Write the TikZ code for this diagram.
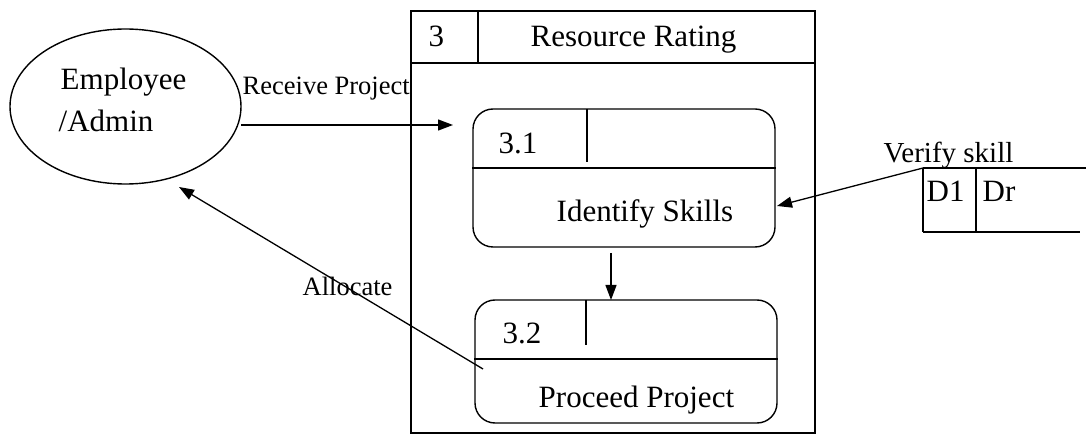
\documentclass[tikz,border=0pt]{standalone}
\usepackage{fontspec}
\setmainfont{Liberation Serif}
\usetikzlibrary{arrows.meta,shapes.geometric}
\begin{document}
\begin{tikzpicture}[x=1pt,y=-1pt,
  line width=1.4pt,
  big/.style={font=\fontsize{31}{31}\selectfont, anchor=base west, inner sep=0pt},
  small/.style={font=\fontsize{26.5}{26.5}\selectfont, anchor=base west, inner sep=0pt},
  flow/.style={-{Triangle[length=15pt,width=11pt]}, line width=1.3pt},
  process/.style={draw, rounded corners=20pt, minimum width=302pt, inner sep=0pt},
  frame/.style={draw, line width=1.2pt}]
\useasboundingbox (0,0) rectangle (1086,435);

% external entity
\node[draw, ellipse, minimum width=231pt, minimum height=155pt, inner sep=0pt] (emp) at (125.5,106.5) {};
\node[big] (empA) at (60,90) {Employee};
\node[big] (empB) at (58,132) {/Admin};

% parent process 3
\draw[frame] (411,11) rectangle (815,433);
\draw[frame] (411,63) -- (815,63);
\draw[frame] (478,11) -- (478,63);
\node[big] (pnum) at (428,47) {3};
\node[big] (pname) at (530,47) {Resource Rating};

% process 3.1
\node[process, minimum height=138pt] (p31) at (624,178) {};
\draw (p31.west |- 0,168) -- (p31.east |- 0,168);
\draw (587,109) -- (587,162);
\node[big] (p31n) at (498,154) {3.1};
\node[big] (p31t) at (556,222) {Identify Skills};

% process 3.2
\node[process, minimum height=123pt] (p32) at (626,361.5) {};
\draw (p32.west |- 0,359) -- (p32.east |- 0,359);
\draw (586,300) -- (586,345);
\node[big] (p32n) at (502,343) {3.2};
\node[big] (p32t) at (538,407) {Proceed Project};

% data store D1
\draw (923,168) -- (1086,168);
\draw (923,232) -- (1080,232);
\draw (923,168) -- (923,232);
\draw (976,168) -- (976,232);
\node[big] (dsn) at (926,202) {D1};
\node[big] (dst) at (982,202) {Dr};

% connector end points
\coordinate (rcvS) at (241,125);
\coordinate (rcvE) at (453,125);
\coordinate (vfyS) at (923,168);
\coordinate (vfyE) at (777,206);
\coordinate (dnS) at (611,253);
\coordinate (dnE) at (611,300);
\coordinate (allS) at (483,369);
\coordinate (allE) at (179,187);

% data flows
\draw[flow] (rcvS) -- (rcvE);
\draw[flow] (vfyS) -- (vfyE);
\draw[flow] (dnS) -- (dnE);
\draw[flow] (allS) -- (allE);

% flow labels
\node[small] (lrcv) at (242,95) {Receive Project};
\node[small] (lall) at (302,296) {Allocate};
\node[font=\fontsize{29}{29}\selectfont, anchor=base west, inner sep=0pt] (lvfy) at (883,163) {Verify skill};
\end{tikzpicture}
\end{document}
